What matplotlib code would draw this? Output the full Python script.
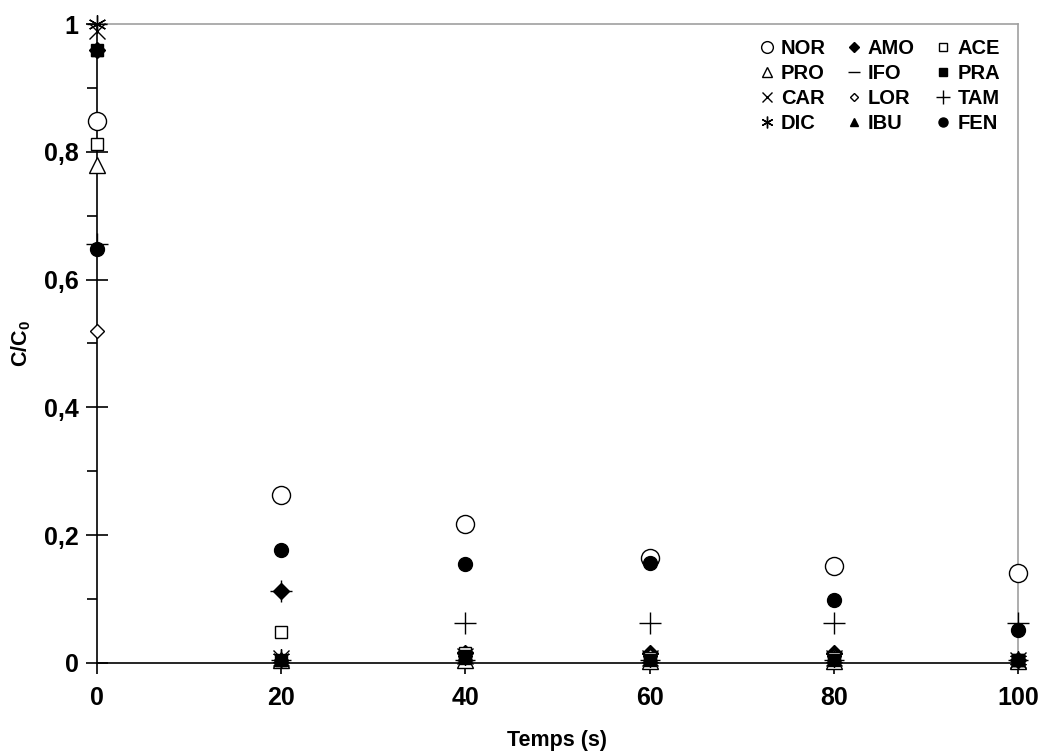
import numpy as np
import matplotlib
matplotlib.use("Agg")
import matplotlib.pyplot as plt

plt.rcParams['font.family'] = ['Liberation Sans', 'DejaVu Sans']
plt.rcParams['font.weight'] = 'bold'
plt.rcParams['mathtext.fontset'] = 'custom'
plt.rcParams['mathtext.rm'] = 'Liberation Sans:bold'
plt.rcParams['mathtext.bf'] = 'Liberation Sans:bold'

temps = [0, 20, 40, 60, 80, 100]

# series in legend column order
names = ["NOR", "PRO", "CAR", "DIC", "AMO", "IFO", "LOR", "IBU", "ACE", "PRA", "TAM", "FEN"]
values = {
    "NOR": [0.848, 0.262, 0.217, 0.164, 0.151, 0.140],
    "PRO": [0.780, 0.005, 0.005, 0.003, 0.003, 0.003],
    "CAR": [0.990, 0.008, 0.010, 0.008, 0.008, 0.005],
    "DIC": [1.000, 0.008, 0.010, 0.008, 0.008, 0.005],
    "AMO": [0.960, 0.112, 0.016, 0.016, 0.016, 0.005],
    "IFO": [1.000, 0.005, 0.005, 0.005, 0.005, 0.005],
    "LOR": [0.520, 0.005, 0.010, 0.010, 0.010, 0.005],
    "IBU": [0.960, 0.005, 0.008, 0.008, 0.010, 0.005],
    "ACE": [0.812, 0.048, 0.015, 0.008, 0.008, 0.005],
    "PRA": [0.960, 0.005, 0.010, 0.005, 0.005, 0.005],
    "TAM": [0.656, 0.112, 0.062, 0.062, 0.062, 0.062],
    "FEN": [0.648, 0.177, 0.154, 0.156, 0.098, 0.052],
}

yticks = [0, 0.2, 0.4, 0.6, 0.8, 1.0]
ytick_labels = ["0", "0,2", "0,4", "0,6", "0,8", "1"]
xticks = [0, 20, 40, 60, 80, 100]

# marker, size, filled
styles = {
    "NOR": ("o", 13, False),
    "PRO": ("^", 11, False),
    "CAR": ("x", 11, False),
    "DIC": ((6, 2, 0), 13, False),
    "AMO": ("D", 8, True),
    "IFO": ("_", 14, False),
    "LOR": ("D", 7, False),
    "IBU": ("^", 8, True),
    "ACE": ("s", 9, False),
    "PRA": ("s", 8, True),
    "TAM": ("+", 16, False),
    "FEN": ("o", 10, True),
}

fig = plt.figure(figsize=(10.42, 7.54), dpi=100)
ax = fig.add_axes([0.093, 0.121, 0.884, 0.847])

for name in names:
    m, s, filled = styles[name]
    ax.plot(temps, values[name], linestyle='none', marker=m, markersize=s,
            markerfacecolor='black' if filled else 'white',
            markeredgecolor='black', markeredgewidth=1.0,
            color='black', label=name, clip_on=False, zorder=3)

ax.set_xlim(0, 100)
ax.set_ylim(0, 1)
ax.set_xticks(xticks)
ax.set_yticks(yticks)
ax.set_yticklabels(ytick_labels)
ax.set_yticks(np.arange(0.1, 1.0, 0.2), minor=True)

for side in ['top', 'right']:
    ax.spines[side].set_color('#a0a0a0')
    ax.spines[side].set_linewidth(1.2)
for side in ['left', 'bottom']:
    ax.spines[side].set_color('black')
    ax.spines[side].set_linewidth(1.2)

ax.tick_params(axis='x', direction='out', length=8, width=1.2, labelsize=18, pad=9)
ax.tick_params(axis='y', which='major', direction='inout', length=16, width=1.2,
               labelsize=18, pad=5)
ax.tick_params(axis='y', which='minor', direction='out', length=7, width=1.2)

ax.set_xlabel("Temps (s)", fontsize=15.5, fontweight='bold', labelpad=14)
ax.set_ylabel(r"C/C$_\mathbf{0}$", fontsize=15.5, fontweight='bold', labelpad=8)

leg = ax.legend(ncol=3, loc='upper right', bbox_to_anchor=(1.0, 1.005),
                frameon=False, markerscale=0.65, handlelength=0.8,
                handletextpad=0.3, columnspacing=1.0, labelspacing=0.3,
                prop={'weight': 'bold', 'size': 14.5})

plt.savefig("out.png", dpi=100)
